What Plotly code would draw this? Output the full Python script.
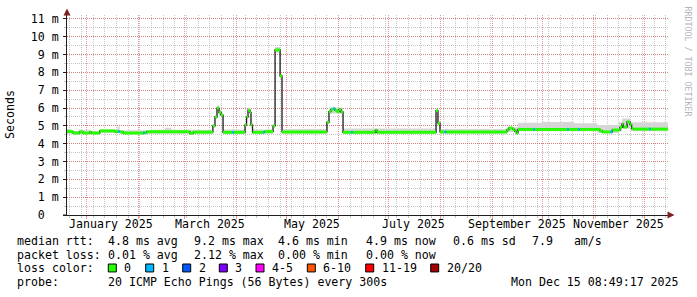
import plotly.graph_objects as go

# ---------------- data ----------------
START = "2024-12-20 08:49:17"
END = "2025-12-15 08:49:17"

# median RTT (ms) as a step series: each value holds until the next date
med_dates = [
    "2024-12-20 08:49:17", "2024-12-24", "2024-12-28", "2024-12-30", "2025-01-03",
    "2025-01-04", "2025-01-09", "2025-01-18", "2025-01-20", "2025-01-21",
    "2025-01-23", "2025-02-04", "2025-02-05", "2025-02-06", "2025-03-04",
    "2025-03-06", "2025-03-17 18:00", "2025-03-19 00:00", "2025-03-20 05:00", "2025-03-21 10:00",
    "2025-03-22 15:00", "2025-03-23 20:00", "2025-03-29 04:00", "2025-03-30 04:00", "2025-04-06 00:00",
    "2025-04-06 22:00", "2025-04-07 19:00", "2025-04-09 00:00", "2025-04-09 14:00", "2025-04-10 12:00",
    "2025-04-16 18:00", "2025-04-17 14:00", "2025-04-22 19:00", "2025-04-24 00:00", "2025-04-27 00:00",
    "2025-04-28 04:00", "2025-05-25 02:00", "2025-05-26 07:00", "2025-05-27 12:00", "2025-05-28 17:00",
    "2025-05-29 22:00", "2025-05-31 02:00", "2025-06-01 07:00", "2025-06-02 12:00", "2025-06-03 17:00",
    "2025-06-08 12:00", "2025-06-09 12:00", "2025-06-23 00:00", "2025-06-24 00:00", "2025-07-29 10:00",
    "2025-07-30 14:00", "2025-07-31 19:00", "2025-08-03 14:00", "2025-08-04 14:00", "2025-09-09 22:00",
    "2025-09-11 00:00", "2025-09-13 10:00", "2025-09-14 14:00", "2025-09-15 12:00", "2025-09-16 12:00",
    "2025-09-25 12:00", "2025-09-26 12:00", "2025-10-15 20:00", "2025-10-16 20:00", "2025-10-22 10:00",
    "2025-10-23 10:00", "2025-11-04 14:00", "2025-11-06 00:00", "2025-11-11 00:00", "2025-11-12 00:00",
    "2025-11-16 14:00", "2025-11-17 19:00", "2025-11-18 16:00", "2025-11-20 20:00", "2025-11-22 14:00",
    "2025-11-23 14:00", "2025-11-24 14:00", "2025-12-04 00:00", "2025-12-05 00:00",
]
med_ms = [
    4.68, 4.60, 4.66, 4.60, 4.65,
    4.60, 4.72, 4.68, 4.68, 4.66,
    4.60, 4.61, 4.61, 4.67, 4.58,
    4.65, 5.00, 5.50, 6.00, 5.75,
    5.60, 4.64, 4.64, 4.64, 5.05,
    5.50, 5.88, 5.75, 5.05, 4.64,
    4.64, 4.68, 5.00, 9.26, 7.80,
    4.66, 5.20, 5.80, 5.93, 5.96,
    5.87, 5.80, 5.93, 5.78, 4.64,
    4.64, 4.64, 4.76, 4.64, 5.85,
    5.15, 4.66, 4.66, 4.66, 4.78,
    4.88, 4.80, 4.70, 4.60, 4.80,
    4.80, 4.80, 4.80, 4.80, 4.80,
    4.80, 4.72, 4.66, 4.66, 4.77,
    4.92, 5.10, 4.93, 5.22, 5.07,
    4.85, 4.82, 4.82, 4.82,
]
# lost pings out of 20 for each step (index into loss_colors)
med_loss = [
    0, 0, 0, 0, 0,
    0, 0, 0, 1, 0,
    0, 1, 0, 0, 0,
    0, 0, 0, 0, 0,
    0, 0, 1, 0, 0,
    0, 0, 0, 0, 0,
    1, 0, 0, 0, 0,
    0, 0, 0, 0, 1,
    0, 0, 0, 0, 0,
    1, 0, 0, 0, 0,
    0, 0, 1, 0, 0,
    0, 0, 0, 0, 0,
    1, 0, 1, 0, 1,
    0, 0, 0, 1, 0,
    0, 0, 0, 0, 0,
    0, 0, 1, 0,
]

# smoke (spread of the 20 pings), ms
smoke_dates = [
    "2024-12-20 08:49:17", "2024-12-23", "2024-12-27", "2025-01-03", "2025-01-09",
    "2025-01-19 12:00", "2025-01-21", "2025-02-10", "2025-02-17", "2025-02-21",
    "2025-03-17 18:00", "2025-03-19", "2025-03-20 05:00", "2025-03-21 10:00", "2025-03-22 15:00",
    "2025-03-23 20:00", "2025-04-06", "2025-04-06 22:00", "2025-04-07 19:00", "2025-04-09",
    "2025-04-09 14:00", "2025-04-10 12:00", "2025-04-22 19:00", "2025-04-24", "2025-04-27",
    "2025-04-28 04:00", "2025-05-25 02:00", "2025-05-26 07:00", "2025-06-03 17:00", "2025-07-29 10:00",
    "2025-07-30 14:00", "2025-07-31 19:00", "2025-09-09 22:00", "2025-09-16 12:00", "2025-10-01",
    "2025-10-20", "2025-11-03", "2025-11-16", "2025-11-17 19:00", "2025-11-22 14:00",
]
smoke_hi = [
    4.82, 4.72, 4.78, 4.72, 4.80,
    4.96, 4.76, 4.78, 4.90, 4.78,
    5.10, 5.60, 6.15, 5.90, 5.75,
    4.80, 5.15, 5.60, 6.00, 5.85,
    5.15, 4.80, 5.10, 9.42, 7.90,
    4.82, 5.30, 6.03, 4.86, 5.95,
    5.25, 4.82, 4.92, 5.18, 5.22,
    5.15, 5.05, 5.20, 5.42, 5.20,
]
smoke_lo = [
    4.56, 4.56, 4.56, 4.56, 4.60,
    4.60, 4.56, 4.56, 4.56, 4.56,
    4.90, 5.40, 5.85, 5.60, 5.45,
    4.56, 4.95, 5.40, 5.75, 5.60,
    4.95, 4.56, 4.90, 9.10, 7.65,
    4.56, 5.10, 5.70, 4.56, 5.70,
    5.05, 4.56, 4.66, 4.70, 4.70,
    4.70, 4.60, 4.70, 4.85, 4.70,
]

month_starts = "2025-01-01"
label_dates = ["2025-01-16", "2025-03-16", "2025-05-16", "2025-07-16", "2025-09-16", "2025-11-16"]
label_text = ["January 2025", "March 2025", "May 2025", "July 2025", "September 2025", "November 2025"]
y_vals = [0, 1, 2, 3, 4, 5, 6, 7, 8, 9, 10, 11]
y_text = ["0  ", "1 m", "2 m", "3 m", "4 m", "5 m", "6 m", "7 m", "8 m", "9 m", "10 m", "11 m"]

loss_labels = ["0", "1", "2", "3", "4-5", "6-10", "11-19", "20/20"]
loss_colors = ["#26ff00", "#00b8ff", "#0059ff", "#7e00ff", "#ff00ff", "#ff5500", "#ff0000", "#a00000"]

rtt_items = ["median rtt:", "4.8 ms avg", "9.2 ms max", "4.6 ms min", "4.9 ms now", "0.6 ms sd", "7.9   am/s"]
pl_items = ["packet loss:", "0.01 % avg", "2.12 % max", "0.00 % min", "0.00 % now"]
probe_items = ["probe:", "20 ICMP Echo Pings (56 Bytes) every 300s"]
stamp_text = "Mon Dec 15 08:49:17 2025"

# ---------------- style / layout constants ----------------
W, H = 697, 297
PL, PR, PT, PB = 67, 668, 13, 215
PX_PER_MS = 18.0
MONO = "DejaVu Sans Mono"
FS = 11.6
AXIS = "#1f1f1f"
ARROW = "#801f1f"
GRID = "rgba(143,143,143,0.5)"
MGRID = "rgba(222,79,79,0.6)"
SMOKE = "#d6d6d6"
col_x = [16, 107.3, 193.3, 276.7, 365, 451.7, 530.7]
row_y = [241, 255, 269, 283]
box_x = [108.3, 145.7, 182.7, 219.3, 256, 307.3, 365.7, 430.7]
XLAB_Y = 224.5


def fx(x):
    return (x - PL) / (PR - PL)


def fy(y):
    return (PB - y) / (PB - PT)


def nb(s):
    return s.replace(" ", "\u00a0")


fig = go.Figure()

# smoke band
sx = smoke_dates + [END]
fig.add_trace(go.Scatter(x=sx, y=smoke_lo + [smoke_lo[-1]], mode="lines",
                         line=dict(width=0, shape="hv"), hoverinfo="skip"))
fig.add_trace(go.Scatter(x=sx, y=smoke_hi + [smoke_hi[-1]], mode="lines",
                         line=dict(width=0, shape="hv"), fill="tonexty",
                         fillcolor=SMOKE, hoverinfo="skip"))

# black median step line
mx = med_dates + [END]
fig.add_trace(go.Scatter(x=mx, y=med_ms + [med_ms[-1]], mode="lines",
                         line=dict(color="#1a1a1a", width=1.3, shape="hv")))

# loss-coloured median segments
for lvl, col in enumerate(loss_colors):
    xs, ys = [], []
    for i, v in enumerate(med_ms):
        if med_loss[i] == lvl:
            xs += [mx[i], mx[i + 1], None]
            ys += [v, v, None]
    if xs:
        fig.add_trace(go.Scatter(x=xs, y=ys, mode="lines",
                                 line=dict(color=col, width=3)))

tickfont = dict(family=MONO, size=FS, color="black")
fig.update_layout(
    width=W, height=H, autosize=False,
    margin=dict(l=PL, r=W - PR, t=PT, b=H - PB, pad=0),
    paper_bgcolor="white", plot_bgcolor="white",
    font=dict(family=MONO, size=FS, color="black"),
    showlegend=False,
    xaxis=dict(type="date", range=[START, END], tick0=month_starts, dtick="M1",
               showticklabels=False, showgrid=True, gridcolor=MGRID,
               griddash="1px,1px", gridwidth=1, ticks="outside", ticklen=3,
               tickcolor=MGRID, showline=True, linecolor=AXIS, linewidth=1,
               zeroline=False, fixedrange=True,
               minor=dict(tick0="2024-12-22", dtick=7 * 86400000, showgrid=True,
                          gridcolor=GRID, griddash="1px,1px", gridwidth=1,
                          ticks="outside", ticklen=2, tickcolor=GRID)),
    yaxis=dict(range=[0, (PB - PT) / PX_PER_MS], tickmode="array", tickvals=y_vals,
               ticktext=[nb(t) for t in y_text], tickfont=tickfont,
               showgrid=True, gridcolor=MGRID, griddash="1px,1px", gridwidth=1,
               ticks="outside", ticklen=3, tickcolor=AXIS, ticklabelstandoff=2,
               showline=True, linecolor=AXIS, linewidth=1, zeroline=False,
               fixedrange=True,
               minor=dict(tick0=0, dtick=0.5, showgrid=True, gridcolor=GRID,
                          griddash="1px,1px", gridwidth=1, ticks="outside",
                          ticklen=2, tickcolor=GRID)),
)

ann = []


def text(x, y, s, xanchor="left", **kw):
    d = dict(xref="paper", yref="paper", x=fx(x), y=fy(y), text=nb(s),
             showarrow=False, xanchor=xanchor, yanchor="middle", borderpad=0,
             font=dict(family=MONO, size=FS, color="black"))
    d.update(kw)
    ann.append(d)


# month labels placed on the date axis scale
for d, s in zip(label_dates, label_text):
    ann.append(dict(xref="x", yref="paper", x=d, y=fy(XLAB_Y), text=nb(s),
                    showarrow=False, xanchor="center", yanchor="middle",
                    borderpad=0, font=tickfont))

for i, s in enumerate(rtt_items):
    text(col_x[i], row_y[0], s)
for i, s in enumerate(pl_items):
    text(col_x[i], row_y[1], s)
text(col_x[0], row_y[2], "loss color:")
for i, s in enumerate(probe_items):
    text(col_x[i], row_y[3], s)
text(680, row_y[3], stamp_text, xanchor="right")

shapes = []
for bx, lab, col in zip(box_x, loss_labels, loss_colors):
    shapes.append(dict(type="rect", xref="paper", yref="paper",
                       x0=fx(bx), x1=fx(bx + 8), y0=fy(272.5), y1=fy(264.5),
                       fillcolor=col, line=dict(color="black", width=1)))
    text(bx + 15, row_y[2], lab)

# axis title and watermark
text(10, 114, "Seconds", xanchor="center", textangle=-90)
text(688, 60, "RRDTOOL / TOBI OETIKER", xanchor="center", textangle=90,
     font=dict(family=MONO, size=8.3, color="#b5b5b5"))

# axis arrows
shapes.append(dict(type="path", xref="paper", yref="paper",
                   path=f"M {fx(67)},{fy(6.5)} L {fx(63.5)},{fy(13.5)} L {fx(70.5)},{fy(13.5)} Z",
                   fillcolor=ARROW, line=dict(color=ARROW, width=0)))
shapes.append(dict(type="path", xref="paper", yref="paper",
                   path=f"M {fx(674.5)},{fy(215)} L {fx(667.5)},{fy(211.5)} L {fx(667.5)},{fy(218.5)} Z",
                   fillcolor=ARROW, line=dict(color=ARROW, width=0)))
shapes.append(dict(type="line", xref="paper", yref="paper",
                   x0=fx(63), x1=fx(67), y0=fy(215), y1=fy(215),
                   line=dict(color=AXIS, width=1)))

fig.update_layout(annotations=ann, shapes=shapes)
fig.write_html("out.html")
